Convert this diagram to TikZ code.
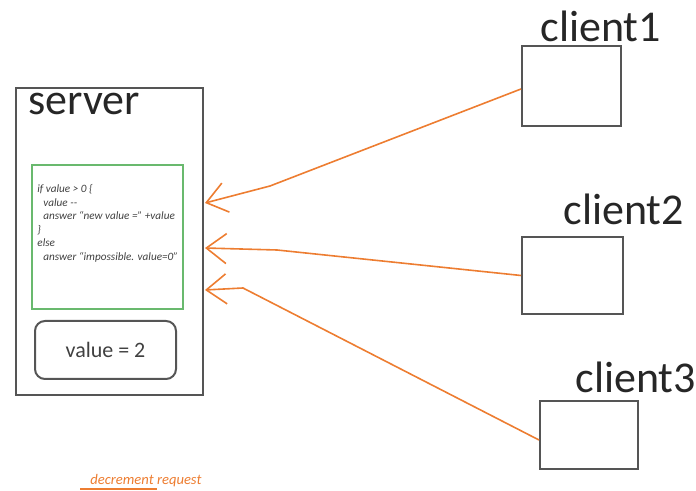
\documentclass[tikz,border=0pt]{standalone}
\usepackage{fontspec}
\setmainfont{Carlito}
\usetikzlibrary{arrows.meta, positioning}

\definecolor{reqorange}{RGB}{237,125,49}
\definecolor{codegreen}{RGB}{105,185,110}
\definecolor{boxgray}{RGB}{85,85,85}

\begin{document}
\begin{tikzpicture}[
    x=0.5pt, y=-0.5pt,
    box/.style={rectangle, draw=boxgray, line width=1pt, inner sep=0pt},
    title/.style={font=\fontsize{22}{24}\selectfont, anchor=base west, inner sep=0pt, text=black!85},
    codebox/.style={rectangle, draw=codegreen, line width=1pt, inner sep=0pt},
    code/.style={font=\fontsize{5.6}{6.8}\selectfont\itshape, align=left, anchor=north west,
                 inner sep=0pt, text=black!75},
    request/.style={-{Straight Barb[length=10pt, width=15pt]}, line width=0.8pt, reqorange},
]
    \useasboundingbox (0,0) rectangle (696,491);

    % server side
    \node[box, minimum width=93.5pt, minimum height=153.5pt] (server) at (109.5,241.5) {};
    \node[title] (srvlabel) at (28,115) {server};
    \node[codebox, minimum width=75.5pt, minimum height=72pt] (logic) at (107.5,237) {};
    \node[code] (logictext) at (37,184) {%
        if value > 0 \{\\
        \hspace{3pt}value {-}{-}\\
        \hspace{3pt}answer ``new value ='' +value\\
        \}\\
        else\\
        \hspace{3pt}answer ``impossible. value=0''};
    \node[box, rounded corners=5pt, minimum width=70.5pt, minimum height=29pt,
          font=\fontsize{11}{13}\selectfont, text=black!75] (value) at (105.5,350) {value = 2};

    % clients
    \node[box, minimum width=49.5pt, minimum height=40pt] (c1) at (571.5,86) {};
    \node[box, minimum width=50.5pt, minimum height=38.5pt] (c2) at (572.5,275.5) {};
    \node[box, minimum width=49pt, minimum height=34pt] (c3) at (589,435) {};
    \node[title] (c1label) at (540,42) {client1};
    \node[title] (c2label) at (563,225) {client2};
    \node[title] (c3label) at (575,393) {client3};

    % where the requests arrive
    \coordinate (in1) at (205,203);
    \coordinate (in2) at (205,248);
    \coordinate (in3) at (205,290);

    \draw[request] ([yshift=-1.5pt]c1.west) -- (270,186) -- (in1);
    \draw[request] (c2.west) -- (277,250) -- (in2);
    \draw[request] ([yshift=-2.5pt]c3.west) -- (243,288) -- (in3);

    % legend
    \node[font=\fontsize{7.3}{8}\selectfont\itshape, text=reqorange, anchor=base west, inner sep=0pt]
        (reqlabel) at (90,485) {decrement request};
    \coordinate (legstart) at (80,489);
    \coordinate (legend) at (157,489);
    \draw[reqorange, line width=0.8pt] (legstart) -- (legend);
\end{tikzpicture}
\end{document}
